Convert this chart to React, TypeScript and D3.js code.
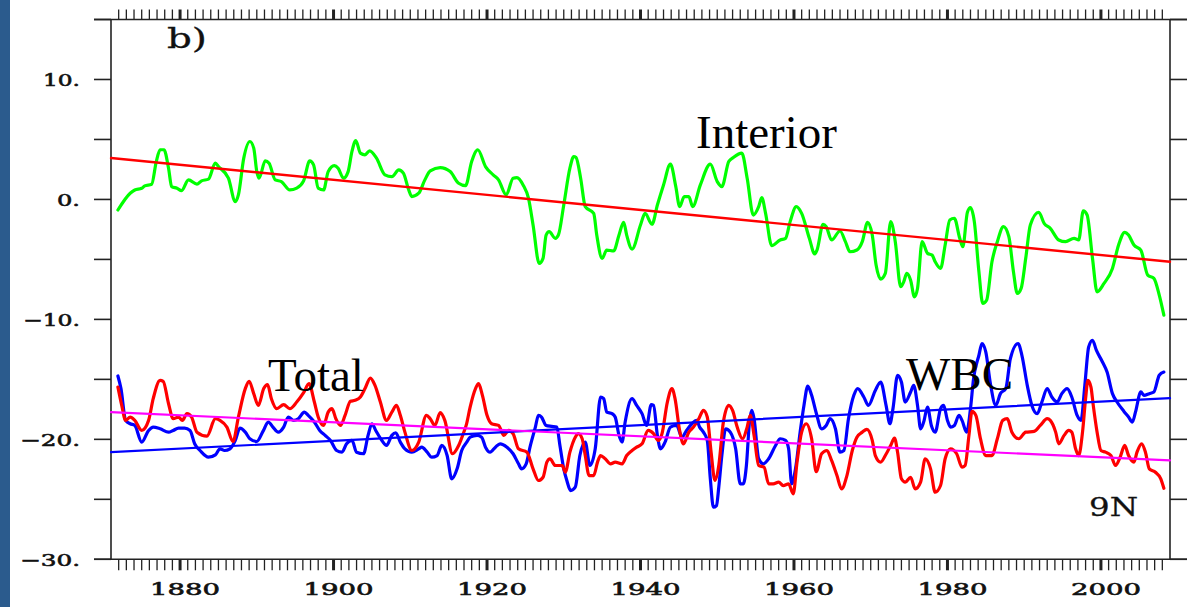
import React from 'react';
import * as d3 from 'd3';

const interior: [number, number][] = [
  [1871.9, -0.88], [1873.5, 0.52], [1874.1, 0.79], [1875, 0.93], [1875.4, 1.13], [1876.3, 1.27], [1876.9, 3.16], [1877.4, 4.14], [1877.9, 4.14], [1878.5, 2.6], [1878.9, 1.07], [1879.6, 0.93], [1880.2, 0.74], [1881.1, 1.63], [1882.2, 1.27], [1882.8, 1.55], [1883.7, 1.69], [1884.6, 3.02], [1885, 2.74], [1886.3, 1.77], [1887.2, -0.18], [1887.6, 0.38], [1888.3, 3.44], [1889.1, 4.83], [1889.6, 4.28], [1890, 2.32], [1890.3, 1.77], [1891.1, 3.22], [1891.6, 3.02], [1892.4, 1.63], [1893.2, 1.49], [1894.3, 0.79], [1895.2, 0.94], [1896.1, 1.55], [1896.9, 3.22], [1897.4, 2.88], [1898, 0.94], [1898.7, 0.79], [1899.3, 2.32], [1900.1, 2.82], [1900.6, 2.6], [1901.3, 1.77], [1901.9, 2.32], [1902.4, 4.0], [1902.9, 4.91], [1903.5, 3.86], [1904.1, 3.72], [1904.7, 4.05], [1905.6, 3.44], [1906.7, 2.05], [1907.6, 1.9], [1908.5, 2.46], [1909.1, 2.19], [1909.8, 0.79], [1910.2, 0.24], [1911.1, 0.52], [1911.9, 1.63], [1912.6, 2.38], [1913.9, 2.66], [1915.2, 2.32], [1916.3, 1.35], [1917.2, 1.15], [1918, 3.16], [1918.8, 4.14], [1919.8, 2.74], [1920.8, 2.05], [1921.5, 1.63], [1922.5, 0.38], [1923.4, 1.77], [1923.9, 1.82], [1924.7, 1.21], [1925.4, 0.1], [1926, -2.13], [1926.8, -5.33], [1927.3, -4.91], [1927.7, -2.97], [1928.1, -2.69], [1928.9, -3.24], [1929.3, -2.97], [1930, -0.46], [1930.8, 2.6], [1931.3, 3.58], [1931.6, 3.5], [1932.2, 1.77], [1932.8, -0.6], [1933.9, -1.16], [1934.3, -2.97], [1935, -4.91], [1935.6, -4.22], [1936.5, -4.3], [1937.2, -2.97], [1937.8, -1.9], [1938.2, -2.97], [1938.9, -4.14], [1940, -2.13], [1940.6, -1.16], [1941.5, -2.07], [1942.2, -0.46], [1943, 1.21], [1943.9, 2.94], [1944.6, 1.07], [1945.1, -0.6], [1945.7, 0.24], [1946.3, 0.24], [1946.8, -0.6], [1947.8, 1.21], [1949.1, 2.94], [1950, 1.49], [1950.6, 1.07], [1951.5, 3.16], [1952.1, 3.5], [1953.2, 3.86], [1953.9, 1.77], [1954.7, -1.3], [1955.4, -0.6], [1955.8, 0.15], [1956.3, -1.16], [1957.1, -3.86], [1958.2, -3.38], [1958.9, -3.24], [1959.5, -1.85], [1960.3, -0.6], [1961, -1.16], [1962, -3.24], [1962.7, -4.55], [1963, -4.22], [1963.8, -2.07], [1964.2, -2.27], [1964.9, -3.38], [1966, -2.63], [1966.7, -3.52], [1967.3, -4.36], [1968.2, -4.22], [1968.9, -3.52], [1969.6, -1.9], [1970.2, -2.97], [1970.7, -5.47], [1971.3, -6.64], [1971.9, -6.17], [1972.6, -1.85], [1973.2, -3.52], [1973.9, -7.28], [1974.3, -6.87], [1974.7, -6.17], [1975.2, -6.73], [1975.7, -8.12], [1976.1, -7.42], [1976.7, -3.52], [1977.4, -4.5], [1978, -4.64], [1978.4, -5.2], [1979.1, -5.75], [1979.7, -3.8], [1980.3, -1.71], [1980.9, -1.57], [1981.6, -3.24], [1982, -3.94], [1982.6, -1.07], [1983, -0.69], [1983.5, -1.85], [1984.1, -6.03], [1984.6, -8.67], [1985.1, -8.4], [1985.8, -5.2], [1986.5, -3.52], [1987.3, -2.27], [1988, -3.1], [1988.6, -6.03], [1989.1, -7.84], [1989.6, -7.42], [1990.2, -4.91], [1990.8, -2.13], [1991.9, -1.07], [1992.6, -1.99], [1993.4, -2.41], [1994.5, -3.38], [1995.4, -3.52], [1996.5, -3.24], [1997.1, -3.38], [1997.7, -0.96], [1998.2, -1.3], [1998.9, -4.91], [1999.5, -7.7], [2000.4, -7.0], [2001.5, -5.75], [2002.3, -3.8], [2003.1, -2.74], [2003.6, -2.97], [2004.3, -3.8], [2005.2, -4.22], [2006.1, -6.31], [2006.9, -6.58], [2007.6, -7.98], [2008.2, -9.65],
];

const total: [number, number][] = [
  [1871.9, -15.64], [1872.4, -17.17], [1872.9, -18.42], [1873.5, -18.14], [1874.1, -18.42], [1875, -19.26], [1875.9, -18.42], [1876.5, -16.61], [1877.4, -15.08], [1877.8, -15.16], [1878.5, -17.03], [1879.1, -18.28], [1879.8, -18.14], [1880.3, -18.42], [1880.9, -17.86], [1881.5, -18.14], [1882.2, -19.4], [1883.5, -19.73], [1884.6, -18.28], [1885.2, -18.42], [1886.1, -18.98], [1886.9, -20.18], [1887.6, -18.14], [1888.5, -15.77], [1889, -15.16], [1889.6, -16.19], [1890.2, -17.17], [1890.9, -15.77], [1891.4, -15.44], [1891.9, -16.61], [1892.6, -17.44], [1893.5, -17.11], [1894.3, -17.44], [1895.2, -16.89], [1896.1, -16.11], [1896.8, -15.36], [1897.5, -16.89], [1898, -18.14], [1898.7, -18.84], [1899.3, -17.73], [1899.8, -17.44], [1900.3, -18.28], [1900.9, -18.84], [1901.5, -18.0], [1902.2, -16.83], [1902.8, -16.75], [1903.5, -16.47], [1904.1, -15.77], [1904.8, -14.89], [1905.4, -15.5], [1906.1, -16.89], [1906.9, -18.42], [1907.6, -17.73], [1908.2, -17.17], [1908.7, -18.0], [1909.3, -19.4], [1910.2, -20.93], [1911.1, -20.23], [1912.1, -18.0], [1912.6, -18.28], [1913.2, -18.84], [1913.9, -17.78], [1914.5, -18.42], [1915.5, -21.2], [1916.3, -20.51], [1916.9, -19.53], [1917.3, -18.8], [1917.8, -17.31], [1918.5, -15.77], [1918.9, -15.36], [1919.4, -16.33], [1920, -18.0], [1920.6, -18.7], [1921.5, -18.84], [1922.2, -19.67], [1922.8, -19.26], [1923.4, -19.53], [1924.1, -20.79], [1925.2, -21.07], [1926, -22.46], [1926.7, -23.43], [1927.3, -23.16], [1927.8, -21.9], [1928.2, -21.62], [1928.9, -22.18], [1929.8, -22.18], [1930.2, -22.74], [1930.8, -21.07], [1931.5, -19.82], [1931.9, -19.53], [1932.4, -19.95], [1932.8, -21.35], [1933.3, -23.02], [1933.9, -23.02], [1934.4, -21.9], [1934.8, -21.35], [1935.4, -21.62], [1936.1, -22.04], [1936.7, -21.9], [1937.6, -22.04], [1938.2, -21.35], [1938.9, -20.93], [1939.5, -20.65], [1940.2, -20.37], [1941, -19.26], [1941.7, -19.53], [1942.3, -20.09], [1942.8, -19.53], [1943.5, -16.89], [1944.1, -15.77], [1944.5, -16.61], [1945.1, -19.26], [1945.6, -20.37], [1946.3, -19.4], [1946.9, -18.98], [1947.6, -18.28], [1948.2, -17.59], [1948.7, -18.14], [1949.2, -21.07], [1949.7, -23.43], [1950.2, -22.18], [1950.8, -18.56], [1951.5, -17.17], [1952, -17.59], [1952.6, -18.98], [1953.3, -19.95], [1953.9, -18.98], [1954.3, -18.0], [1954.8, -19.67], [1955.4, -22.18], [1956.1, -22.32], [1956.7, -23.71], [1957.3, -23.71], [1958, -23.57], [1958.6, -23.85], [1959.3, -23.71], [1959.9, -24.54], [1960.4, -21.9], [1961, -19.4], [1961.6, -18.7], [1962.3, -19.95], [1962.9, -22.7], [1963.6, -21.2], [1964.3, -20.93], [1964.9, -21.76], [1965.6, -23.02], [1966.2, -24.13], [1966.9, -23.02], [1967.6, -20.93], [1968.2, -19.82], [1968.9, -19.4], [1969.5, -19.17], [1970.2, -20.09], [1970.6, -21.35], [1971.3, -21.9], [1971.9, -21.35], [1972.6, -20.51], [1973.1, -19.9], [1973.5, -21.07], [1974, -23.29], [1974.5, -23.57], [1975.2, -23.16], [1975.8, -24.13], [1976.5, -23.57], [1977.1, -21.62], [1977.8, -22.46], [1978.4, -24.41], [1979.1, -23.85], [1979.7, -21.62], [1980.4, -20.79], [1981.2, -21.2], [1981.9, -22.32], [1982.3, -22.18], [1982.8, -19.67], [1983.2, -17.67], [1983.7, -18.0], [1984.3, -19.95], [1985, -21.35], [1985.8, -21.35], [1986.5, -19.95], [1987.2, -18.42], [1987.8, -18.28], [1988.4, -19.4], [1989.3, -19.95], [1990.2, -19.4], [1991.3, -19.34], [1992.1, -18.84], [1993, -18.28], [1993.4, -18.42], [1994.1, -19.4], [1994.5, -20.37], [1995.2, -19.67], [1995.8, -19.26], [1996.2, -19.4], [1996.7, -20.79], [1997.1, -21.35], [1997.6, -19.4], [1998, -16.61], [1998.3, -15.08], [1998.7, -15.64], [1999, -17.17], [1999.5, -19.4], [2000, -20.93], [2000.6, -21.07], [2001.3, -21.35], [2001.9, -22.18], [2002.5, -21.49], [2003.1, -20.51], [2003.6, -21.35], [2004.3, -21.9], [2004.7, -21.07], [2005.3, -20.37], [2005.8, -21.07], [2006.3, -22.46], [2007.1, -22.74], [2007.8, -23.29], [2008.2, -24.08],
];

const wbc: [number, number][] = [
  [1871.9, -14.72], [1872.3, -15.77], [1872.9, -18.42], [1873.5, -18.7], [1874.1, -18.84], [1875, -20.23], [1875.9, -19.26], [1876.5, -18.98], [1877.4, -19.12], [1878.5, -19.4], [1879.1, -19.26], [1879.8, -19.07], [1880.6, -19.07], [1881.3, -19.26], [1881.9, -20.37], [1882.6, -20.93], [1883.7, -21.49], [1884.6, -21.29], [1885.2, -20.79], [1885.8, -20.93], [1886.5, -20.79], [1887.2, -20.09], [1887.8, -19.07], [1888.5, -19.4], [1889.1, -19.95], [1890, -20.18], [1890.8, -19.34], [1891.5, -18.56], [1892.1, -18.98], [1892.8, -19.4], [1893.5, -18.98], [1894.1, -18.14], [1894.8, -18.42], [1895.4, -18.28], [1896.2, -17.73], [1896.7, -18.0], [1897.5, -18.56], [1898.2, -19.26], [1898.9, -19.67], [1899.6, -20.09], [1900.4, -20.93], [1901.1, -21.07], [1901.7, -20.37], [1902.4, -20.09], [1903, -21.07], [1903.9, -21.2], [1904.5, -19.67], [1905, -18.7], [1905.5, -19.26], [1906.3, -20.09], [1906.9, -20.51], [1907.6, -19.67], [1908.1, -19.45], [1908.7, -20.23], [1909.3, -20.79], [1910.2, -21.07], [1911.1, -20.79], [1911.5, -20.65], [1912.2, -21.07], [1912.8, -21.49], [1913.5, -21.35], [1914.1, -20.51], [1914.8, -21.35], [1915.4, -23.29], [1916.1, -22.46], [1916.7, -20.93], [1917.4, -20.2], [1917.8, -19.82], [1918.7, -19.67], [1919.3, -19.82], [1919.8, -20.65], [1920.4, -21.07], [1921.1, -20.65], [1921.7, -20.37], [1922.6, -20.65], [1923.4, -21.2], [1924.1, -22.04], [1924.5, -22.46], [1925.1, -22.04], [1925.6, -20.65], [1926.3, -18.98], [1926.7, -18.0], [1927.1, -18.14], [1927.7, -18.84], [1928.4, -18.92], [1929.1, -18.98], [1929.5, -20.51], [1930, -22.46], [1930.4, -23.43], [1930.9, -24.27], [1931.5, -23.99], [1932.1, -21.35], [1932.8, -20.23], [1933.4, -22.18], [1934.1, -20.79], [1934.8, -16.47], [1935.2, -16.61], [1935.6, -17.73], [1936.3, -17.86], [1936.7, -18.14], [1937.2, -19.67], [1937.6, -20.23], [1938, -18.56], [1938.9, -16.61], [1939.5, -17.17], [1940.2, -17.86], [1940.8, -18.84], [1941.4, -17.11], [1941.7, -17.17], [1942.2, -19.67], [1942.6, -20.79], [1943.2, -20.23], [1943.9, -18.98], [1944.7, -18.84], [1945.4, -19.82], [1946, -19.26], [1946.7, -18.7], [1947.3, -18.42], [1947.7, -18.98], [1948.2, -19.4], [1948.7, -20.09], [1949.1, -23.29], [1949.5, -25.66], [1949.9, -25.52], [1950.2, -23.99], [1950.6, -21.35], [1951.1, -19.12], [1951.7, -19.4], [1952.4, -20.79], [1953, -23.71], [1953.4, -23.71], [1953.8, -22.18], [1954.2, -18.56], [1954.5, -17.59], [1954.8, -18.28], [1955.4, -21.62], [1956, -22.04], [1956.7, -21.62], [1957.6, -20.51], [1958.2, -19.95], [1958.9, -20.09], [1959.3, -20.79], [1959.7, -23.71], [1960.2, -22.46], [1960.8, -19.4], [1961.3, -17.17], [1961.8, -15.56], [1962.3, -16.33], [1962.9, -17.8], [1963.6, -19.12], [1964.2, -18.84], [1964.7, -18.28], [1965.4, -19.12], [1966, -21.07], [1966.5, -20.93], [1967.1, -18.28], [1967.8, -16.33], [1968.3, -15.77], [1969.1, -16.47], [1969.7, -17.17], [1970.6, -15.92], [1971.3, -15.22], [1972, -17.17], [1972.5, -18.7], [1972.9, -17.44], [1973.5, -14.66], [1974, -15.22], [1974.5, -16.89], [1975.2, -16.05], [1975.6, -15.5], [1976.1, -17.17], [1976.5, -19.12], [1976.9, -18.56], [1977.4, -17.31], [1977.9, -18.84], [1978.4, -19.4], [1979.1, -17.44], [1979.5, -17.17], [1980, -18.42], [1980.4, -18.98], [1980.9, -18.84], [1981.5, -18.0], [1981.9, -18.42], [1982.5, -19.4], [1983, -17.44], [1983.4, -14.94], [1984.1, -12.99], [1984.5, -12.01], [1985, -12.72], [1985.6, -15.36], [1986.3, -17.17], [1986.9, -16.19], [1987.6, -15.77], [1988.2, -13.27], [1989.2, -12.01], [1989.7, -12.99], [1990.4, -15.5], [1991, -17.17], [1991.7, -17.86], [1992.3, -16.89], [1993, -15.77], [1993.6, -16.47], [1994.3, -16.89], [1994.9, -16.19], [1995.6, -15.77], [1996.2, -16.47], [1996.9, -18.0], [1997.4, -18.42], [1997.9, -15.5], [1998.4, -12.3], [1998.9, -11.74], [1999.4, -12.57], [2000.2, -13.55], [2000.8, -14.39], [2001.5, -16.19], [2002.1, -16.89], [2003, -17.67], [2003.6, -18.14], [2004.1, -18.56], [2004.5, -17.73], [2005.2, -16.05], [2005.6, -16.33], [2006.3, -16.19], [2006.9, -16.05], [2007.6, -14.66], [2008.2, -14.39],
];

// linear trends (end points)
const trendYears = [1871, 2009];
const interiorTrend = [3.45, -5.2];
const wbcTrend = [-21.07, -16.56];
const totalTrend = [-17.73, -21.76];

const yLabelValues = [-30, -20, -10, 0, 10];
const yLabelText = ['\u221230.', '\u221220.', '\u221210.', '0.', '10.'];
const xLabelYears = [1880, 1900, 1920, 1940, 1960, 1980, 2000];

const W = 1199;
const H = 607;
const left = 111, right = 1170, top = 19.5, bottom = 559.3;
const tickLen = 17;
const labelFont = '"DejaVu Serif", serif';

// rough width of the old plotting font's glyphs
const glyphWidth = (s: string) =>
  s.split('').reduce((a, c) => a + (c === '1' ? 14 : c === '.' ? 6 : c === '\u2212' ? 20 : 17), 0);

export default function App() {
  const x = d3.scaleLinear().domain([1871, 2009]).range([left, right]);
  const y = d3.scaleLinear().domain([-30, 15]).range([bottom, top]);

  const line = d3.line<[number, number]>()
    .x(d => x(d[0]))
    .y(d => y(d[1]))
    .curve(d3.curveMonotoneX);

  const trend = (vals: number[]) =>
    d3.line<number>().x((_, i) => x(trendYears[i])).y(d => y(d))(vals) || '';

  const yearTicks = d3.range(1872, 2009);
  const yTicks = d3.range(-30, 16, 5);
  const axisColor = '#222';

  return (
    <div style={{ position: 'fixed', left: 0, top: 0, width: W, height: H, background: '#fff' }}>
      <svg width={W} height={H} style={{ display: 'block' }}>
        <rect x={0} y={0} width={10} height={H} fill="#2b5b8d" />

        {/* frame */}
        <g stroke={axisColor} strokeWidth={1.6} fill="none">
          <line x1={left - tickLen} x2={right + tickLen} y1={top} y2={top} />
          <line x1={left - tickLen} x2={right + tickLen} y1={bottom} y2={bottom} />
          <line x1={left} x2={left} y1={top} y2={bottom} />
          <line x1={right} x2={right} y1={top} y2={bottom} />
        </g>

        {/* y ticks both sides */}
        <g stroke={axisColor} strokeWidth={1.6}>
          {yTicks.map(v => (
            <g key={v}>
              <line x1={left - tickLen} x2={left} y1={y(v)} y2={y(v)} />
              <line x1={right} x2={right + tickLen} y1={y(v)} y2={y(v)} />
            </g>
          ))}
        </g>

        {/* year ticks top and bottom */}
        <g stroke={axisColor}>
          {yearTicks.map(yr => {
            const major = yr % 20 === 0;
            return (
              <g key={yr} strokeWidth={major ? 3 : 1.3}>
                <line x1={x(yr)} x2={x(yr)} y1={top} y2={top - 10} />
                <line x1={x(yr)} x2={x(yr)} y1={bottom} y2={bottom + 11} />
              </g>
            );
          })}
        </g>

        {/* axis labels */}
        <g fontFamily={labelFont} fontSize={17} fill="#111" stroke="#111" strokeWidth={0.6}>
          {yLabelValues.map((v, i) => (
            <text key={v} x={80} y={y(v) + 7} textAnchor="end"
              textLength={glyphWidth(yLabelText[i])} lengthAdjust="spacingAndGlyphs">
              {yLabelText[i]}
            </text>
          ))}
          {xLabelYears.map(yr => (
            <text key={yr} x={x(yr) + 5} y={595} textAnchor="middle"
              textLength={70} lengthAdjust="spacingAndGlyphs">
              {yr}
            </text>
          ))}
        </g>

        {/* data */}
        <g fill="none" strokeLinejoin="round" strokeLinecap="round">
          <path d={line(interior) || ''} stroke="#00ff00" strokeWidth={3.2} />
          <path d={trend(interiorTrend)} stroke="#ff0000" strokeWidth={2.4} />
          <path d={line(wbc) || ''} stroke="#0000ff" strokeWidth={3.2} />
          <path d={line(total) || ''} stroke="#ff0000" strokeWidth={3.2} />
          <path d={trend(wbcTrend)} stroke="#0000ff" strokeWidth={2.2} />
          <path d={trend(totalTrend)} stroke="#ff00ff" strokeWidth={2.2} />
        </g>

        {/* annotations */}
        <text x={167} y={48} fontFamily={labelFont} fontSize={27} fill="#111" stroke="#111" strokeWidth={0.3}
          textLength={40} lengthAdjust="spacingAndGlyphs">b)</text>
        <text x={1089} y={516} fontFamily={labelFont} fontSize={26} fill="#111" stroke="#111" strokeWidth={0.3}
          textLength={49} lengthAdjust="spacingAndGlyphs">9N</text>
        <g fontFamily='"Liberation Serif", "Times New Roman", serif' fontSize={47} fill="#000">
          <text x={696} y={148}>Interior</text>
          <text x={268} y={391}>Total</text>
          <text x={906} y={390}>WBC</text>
        </g>
      </svg>
    </div>
  );
}
